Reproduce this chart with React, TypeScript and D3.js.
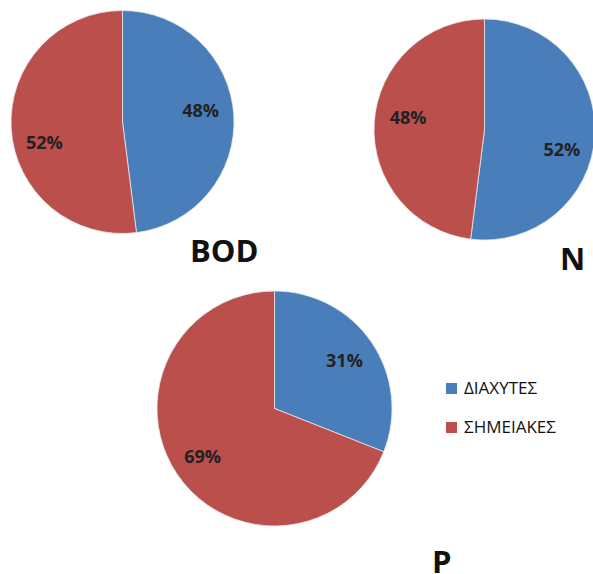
import React from "react";
import * as d3 from "d3";

const seriesNames = ["ΔΙΑΧΥΤΕΣ", "ΣΗΜΕΙΑΚΕΣ"];
const chartTitles = ["BOD", "N", "P"];
const bodValues = [48, 52];
const nValues = [52, 48];
const pValues = [31, 69];

const colors = ["#4A7EBA", "#BA4F4C"];
const W = 593;
const H = 574;
const FONT = "'Open Sans', 'DejaVu Sans', sans-serif";

const layout = [
  { cx: 122.5, cy: 122, r: 111.5, tx: 190, ty: 262, nudges: [[-2, -7], [2, 15]] },
  { cx: 484.5, cy: 129.5, r: 110.5, tx: 560, ty: 270, nudges: [[-2, 15], [3, -8]] },
  { cx: 274.5, cy: 408.5, r: 117.5, tx: 432, ty: 573, nudges: [[0, -1], [-2, 0]] },
];

const datasets = [bodValues, nValues, pValues];

function Pie({ values, cfg, title }: { values: number[]; cfg: any; title: string }) {
  const pie = d3.pie<number>().sort(null).value((d) => d);
  const arcs = pie(values);
  const arc = d3.arc<d3.PieArcDatum<number>>().innerRadius(0).outerRadius(cfg.r);
  const labelArc = d3
    .arc<d3.PieArcDatum<number>>()
    .innerRadius(cfg.r * 0.72)
    .outerRadius(cfg.r * 0.72);
  const total = d3.sum(values);
  return (
    <g>
      <g transform={`translate(${cfg.cx},${cfg.cy})`}>
        {arcs.map((a, i) => (
          <path key={i} d={arc(a) || ""} fill={colors[i]} stroke="#E8E8E8" strokeWidth={0.8} />
        ))}
        {arcs.map((a, i) => {
          const [x, y] = labelArc.centroid(a);
          return (
            <text
              key={"l" + i}
              x={x + cfg.nudges[i][0]}
              y={y + cfg.nudges[i][1]}
              textAnchor="middle"
              dominantBaseline="central"
              fontFamily={FONT}
              fontWeight="bold"
              fontSize={18}
              fill="#222"
            >
              {Math.round((a.data / total) * 100)}%
            </text>
          );
        })}
      </g>
      <text x={cfg.tx} y={cfg.ty} fontFamily={FONT} fontWeight="bold" fontSize={31} fill="#111">
        {title}
      </text>
    </g>
  );
}

export default function App() {
  return (
    <svg
      width={W}
      height={H}
      style={{ position: "absolute", left: 0, top: 0, background: "#fff" }}
    >
      <rect width={W} height={H} fill="#fff" />
      {datasets.map((vals, i) => (
        <Pie key={i} values={vals} cfg={layout[i]} title={chartTitles[i]} />
      ))}
      <g>
        {seriesNames.map((name, i) => (
          <g key={name} transform={`translate(446,${383 + i * 39})`}>
            <rect width={11} height={11} fill={colors[i]} />
            <text x={18} y={11} fontFamily={FONT} fontSize={17} fill="#111">
              {name}
            </text>
          </g>
        ))}
      </g>
    </svg>
  );
}
